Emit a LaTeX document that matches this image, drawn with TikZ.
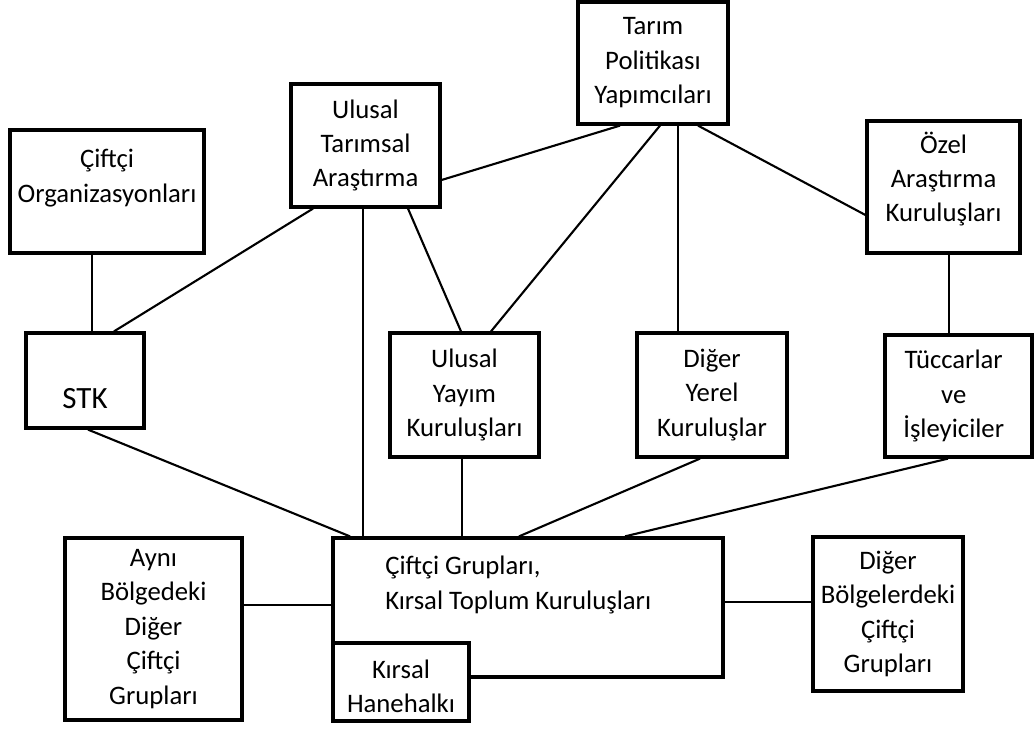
\documentclass[tikz,border=0pt]{standalone}
\usepackage{fontspec}
\setmainfont{Carlito}
\usetikzlibrary{positioning}

\begin{document}
\begin{tikzpicture}[
    box/.style={rectangle, draw=black, line width=2.3pt, align=center, inner sep=0pt, fill=white, font=\fontsize{19}{24.5}\selectfont},
    txt/.style={align=center, inner sep=0pt, font=\fontsize{19}{24.5}\selectfont},
    conn/.style={line width=1.5pt}
]
    \useasboundingbox (0,0) rectangle (25.875,18.225);

    % Top row
    \node[box, minimum width=4.85cm, minimum height=3.075cm] (org) at (2.675, 13.4375) {};
    \node[txt] (org-label) at ([yshift=0.34cm]org.center) {Çiftçi\\Organizasyonları};

    \node[box, minimum width=3.725cm, minimum height=3.075cm] (uta) at (9.1375, 14.5875) {Ulusal\\Tarımsal\\Araştırma};

    \node[box, minimum width=3.75cm, minimum height=3.05cm] (tpy) at (16.325, 16.65) {Tarım\\Politikası\\Yapımcıları};

    \node[box, minimum width=3.825cm, minimum height=3.3cm] (ozel) at (23.5875, 13.55) {};
    \node[txt] (ozel-label) at ([yshift=0.2cm]ozel.center) {Özel\\Araştırma\\Kuruluşları};

    % Middle row
    \node[box, minimum width=2.95cm, minimum height=2.375cm] (stk) at (2.125, 8.7125) {};
    \node[txt, font=\fontsize{22}{26}\selectfont] (stk-label) at ([yshift=-0.44cm]stk.center) {STK};

    \node[box, minimum width=3.725cm, minimum height=3.1cm] (yayim) at (11.6125, 8.35) {Ulusal\\Yayım\\Kuruluşları};

    \node[box, minimum width=3.75cm, minimum height=3.1cm] (yerel) at (17.8, 8.35) {Diğer\\Yerel\\Kuruluşlar};

    \node[box, minimum width=3.675cm, minimum height=3.05cm] (tuccar) at (23.9625, 8.325) {};
    \node[txt] (tuccar-label) at ([xshift=-0.12cm]tuccar.center) {Tüccarlar\\ve\\İşleyiciler};

    % Bottom row
    \node[box, minimum width=4.425cm, minimum height=4.55cm] (ayni) at (3.8375, 2.5) {Aynı\\Bölgedeki\\Diğer\\Çiftçi\\Grupları};

    \node[box, minimum width=9.75cm, minimum height=3.475cm] (grup) at (13.2, 3.0375) {};
    \node[txt, align=left, anchor=west] (grup-label) at (9.625, 3.6) {Çiftçi Grupları,\\Kırsal Toplum Kuruluşları};

    \node[box, minimum width=3.4cm, minimum height=1.95cm] (hane) at (10.025, 1.175) {};
    \node[txt] (hane-label) at ([yshift=-0.11cm]hane.center) {Kırsal\\Hanehalkı};

    \node[box, minimum width=3.75cm, minimum height=3.85cm] (diger) at (22.2, 2.875) {Diğer\\Bölgelerdeki\\Çiftçi\\Grupları};

    % Links between top and middle
    \draw[conn] ([xshift=-0.375cm]org.south) -- ([xshift=-0.375cm]org.south |- stk.north);
    \draw[conn] ([xshift=-1.3125cm]uta.south) -- ([xshift=0.725cm]stk.north);
    \draw[conn] ([xshift=1.0625cm]uta.south) -- ([xshift=-0.0875cm]yayim.north);
    \draw[conn] ([yshift=-0.8625cm]uta.east) -- ([xshift=-0.825cm]tpy.south);
    \draw[conn] ([xshift=0.175cm]tpy.south) -- ([xshift=0.6625cm]yayim.north);
    \draw[conn] ([xshift=-0.85cm]yerel.north) -- ([xshift=-0.85cm]yerel.north |- tpy.south);
    \draw[conn] ([xshift=1.125cm]tpy.south) -- ([yshift=-0.7cm]ozel.west);
    \draw[conn] ([xshift=0.1375cm]ozel.south) -- ([xshift=0.1375cm]ozel.south |- tuccar.north);

    % Links down to farmer groups
    \draw[conn] ([xshift=-0.0625cm]uta.south) -- ([xshift=-0.0625cm]uta.south |- grup.north);
    \draw[conn] ([xshift=0.075cm]stk.south) -- ([xshift=-4.45cm]grup.north);
    \draw[conn] ([xshift=-0.0625cm]yayim.south) -- ([xshift=-0.0625cm]yayim.south |- grup.north);
    \draw[conn] ([xshift=-0.3cm]yerel.south) -- ([xshift=-0.225cm]grup.north);
    \draw[conn] ([xshift=-0.2625cm]tuccar.south) -- ([xshift=2.425cm]grup.north);

    % Side links
    \draw[conn] ([yshift=0.6cm]ayni.east) -- ([yshift=0.6cm]ayni.east -| grup.west);
    \draw[conn] ([yshift=0.1375cm]grup.east) -- ([yshift=0.1375cm]grup.east -| diger.west);

\end{tikzpicture}
\end{document}
